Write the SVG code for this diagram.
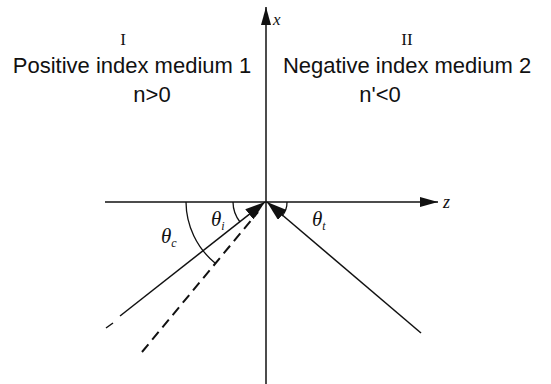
<svg xmlns="http://www.w3.org/2000/svg" width="551" height="384" viewBox="0 0 551 384">
<style>
.ln{stroke:#111;stroke-width:1.5;fill:none}
.dash{stroke:#111;stroke-width:2;fill:none;stroke-dasharray:10 6}
.arc{stroke:#111;stroke-width:1.3;fill:none}
.sans{font-family:"Liberation Sans",Arial,sans-serif;font-size:22px;fill:#111;text-anchor:middle}
.roman{font-family:"Liberation Serif","Times New Roman",serif;font-size:17px;fill:#111;text-anchor:middle}
.it{font-family:"Liberation Serif","Times New Roman",serif;font-style:italic;fill:#111}
</style>
<defs>
<marker id="ah" markerUnits="userSpaceOnUse" markerWidth="20" markerHeight="13" refX="20" refY="6.5" orient="auto">
<path d="M0,0 L20,6.5 L0,13 z" fill="#111"/>
</marker>
<marker id="axh" markerUnits="userSpaceOnUse" markerWidth="18" markerHeight="10" refX="18" refY="5" orient="auto">
<path d="M0,0 L18,5 L0,10 z" fill="#111"/>
</marker>
</defs>
<rect width="551" height="384" fill="#fff"/>
<g id="connectors">
<line id="x-axis" class="ln" x1="266" y1="384" x2="266" y2="7" marker-end="url(#axh)"/>
<line id="z-axis" class="ln" x1="105" y1="202" x2="438" y2="202" marker-end="url(#axh)"/>
<line id="incident" class="ln" x1="120" y1="316" x2="265" y2="202" marker-end="url(#ah)"/>
<line class="ln" x1="106" y1="328" x2="113" y2="323"/>
<line id="critical" class="dash" x1="142" y1="352" x2="258" y2="212"/>
<line id="refracted" class="ln" x1="421" y1="333" x2="267" y2="202" marker-end="url(#ah)"/>
<path id="arc-c" class="arc" d="M186,202 A80,80 0 0 0 215,263"/>
<path id="arc-i" class="arc" d="M233,202 A33,33 0 0 0 240,222"/>
<path id="arc-t" class="arc" d="M287,202 A21,21 0 0 1 282,216"/>
</g>
<g id="medium1">
<text class="roman" x="123" y="45">I</text>
<text class="sans" x="132" y="73">Positive index medium 1</text>
<text class="sans" x="152" y="102">n&gt;0</text>
</g>
<g id="medium2">
<text class="roman" x="407" y="45">II</text>
<text class="sans" x="407" y="73">Negative index medium 2</text>
<text class="sans" x="380" y="102">n'&lt;0</text>
</g>
<g id="labels">
<text class="it" x="273" y="25" font-size="17">x</text>
<text class="it" x="443" y="208" font-size="18">z</text>
<text class="it" x="161" y="243" font-size="21">θ<tspan font-size="12" dy="4">c</tspan></text>
<text class="it" x="211" y="226" font-size="21">θ<tspan font-size="12" dy="4">i</tspan></text>
<text class="it" x="312" y="226" font-size="21">θ<tspan font-size="12" dy="4">t</tspan></text>
</g>
</svg>
